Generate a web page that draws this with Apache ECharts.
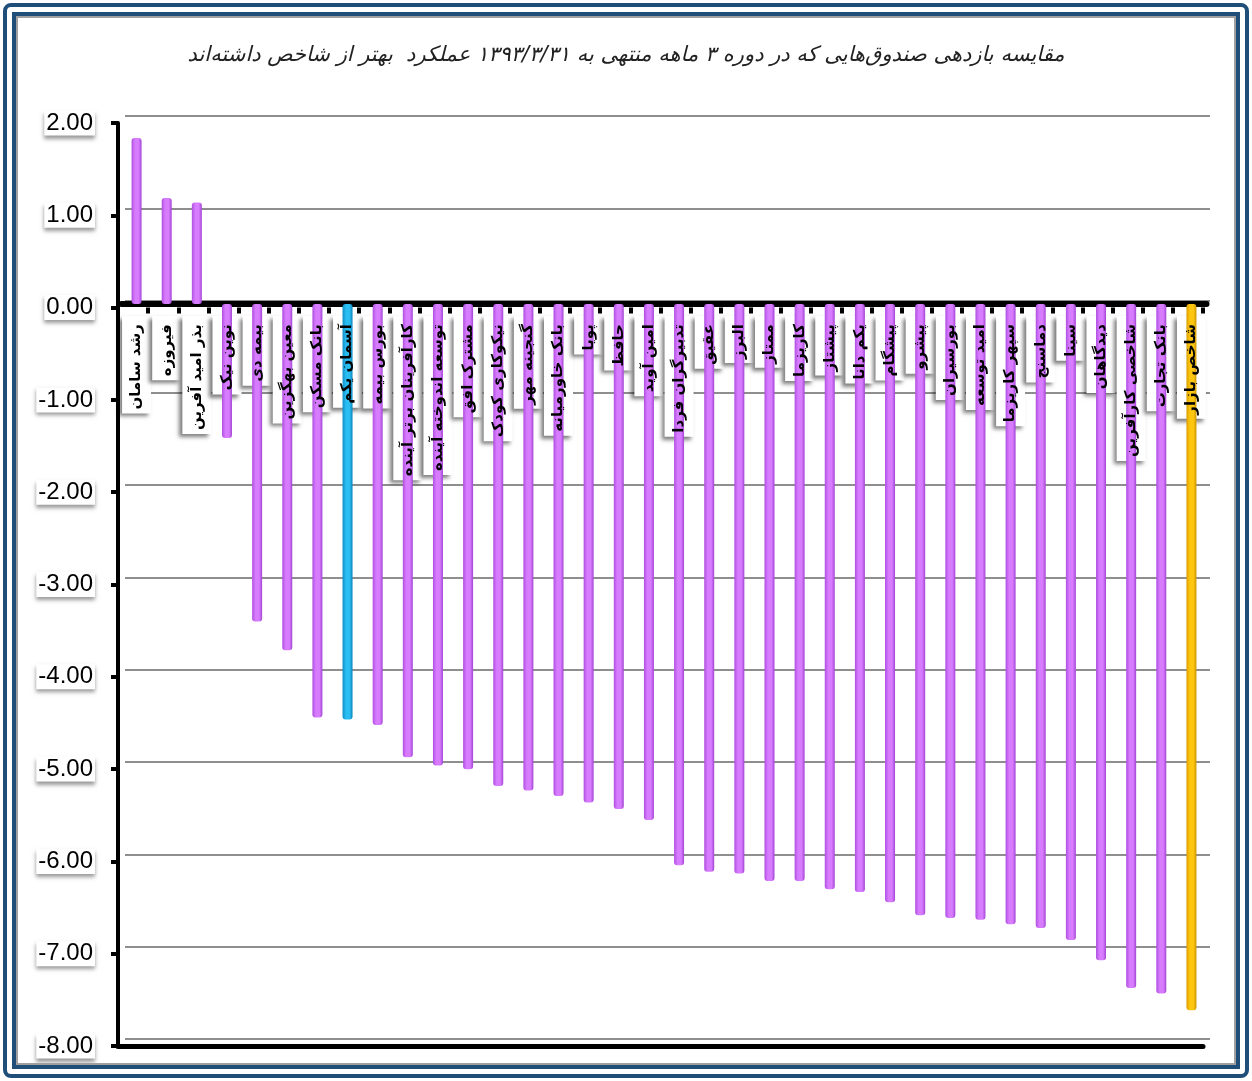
<!DOCTYPE html>
<html>
<head>
<meta charset="utf-8">
<script src="https://cdn.jsdelivr.net/npm/echarts@6/dist/echarts.min.js"></script>
<style>
html,body{margin:0;padding:0;background:#fff;}
#chart{width:1252px;height:1081px;}
</style>
</head>
<body>
<div id="chart"></div>
<script>
const titleText = 'مقایسه بازدهی صندوق‌هایی که در دوره ۳ ماهه منتهی به ۱۳۹۳/۳/۳۱ عملکرد  بهتر از شاخص داشته‌اند';
const categories = [
  'رشد سامان','فیروزه','بذر امید آفرین','نوین نیک','بیمه دی','معین بهگزین','بانک مسکن','آسمان یکم',
  'بورس بیمه','کارآفرینان برتر آینده','توسعه اندوخته آینده','مشترک افق','نیکوکاری کودک','گنجینه مهر',
  'بانک خاورمیانه','پویا','حافظ','امین آوید','تدبیرگران فردا','عقیق','البرز','ممتاز','کاریزما',
  'پیشتاز','یکم دانا','پیشگام','پیشرو','بورسیران','امید توسعه','سپهر کاریزما','دماسنج','سینا',
  'دیدگاهان','شاخصی کارآفرین','بانک تجارت','شاخص بازار'
];
const returns = [
  1.80, 1.15, 1.10, -1.45, -3.44, -3.75, -4.48, -4.50,
  -4.56, -4.91, -5.00, -5.04, -5.22, -5.27,
  -5.33, -5.40, -5.47, -5.59, -6.08, -6.15, -6.17, -6.25, -6.25,
  -6.34, -6.37, -6.48, -6.62, -6.65, -6.67, -6.72, -6.76, -6.89,
  -7.11, -7.41, -7.47, -7.65
];
const yTicks = { min: -8, max: 2, interval: 1 };
const highlightFund = 'آسمان یکم';
const marketIndex = 'شاخص بازار';

function cyl(c0, c1, c2) {
  return new echarts.graphic.LinearGradient(0, 0, 1, 0, [
    {offset: 0, color: c0}, {offset: 0.35, color: c1}, {offset: 0.7, color: c1}, {offset: 1, color: c2}
  ]);
}
const purple = cyl('#b04fe0', '#d77cff', '#a445d4');
const blue = cyl('#0e8ec4', '#29bdf2', '#0b84b8');
const gold = cyl('#d9a000', '#ffc610', '#c99400');

const barData = returns.map((v, i) => ({
  value: v,
  itemStyle: { color: categories[i] === highlightFund ? blue : (categories[i] === marketIndex ? gold : purple) }
}));

const W = 1085, H = 923;
const UNIT = H / (yTicks.max - yTicks.min);
const ZERO_OFF = UNIT * yTicks.max;
function g(left, top, height) {
  return { left: left, top: top, width: W, height: height, outerBoundsMode: 'none', containLabel: false };
}
const frontG = g(118, 123, H);
const midG = g(121.5, 119.5, H);
const backG = g(125, 116, H);
const midZeroG = g(121.5, 119.5, ZERO_OFF);
const frontZeroG = g(118, 123, ZERO_OFF);

function yAx(grid, extra) {
  return Object.assign({
    type: 'value', gridIndex: grid, min: yTicks.min, max: yTicks.max, interval: yTicks.interval,
    axisLine: {show: false}, axisTick: {show: false}, axisLabel: {show: false}, splitLine: {show: false}
  }, extra || {});
}
function xAx(grid, extra) {
  return Object.assign({
    type: 'category', gridIndex: grid, data: categories, boundaryGap: true, position: 'bottom',
    axisLine: {show: false, onZero: false}, axisTick: {show: false}, axisLabel: {show: false}, splitLine: {show: false}
  }, extra || {});
}

const labelFont = { fontFamily: 'DejaVu Sans', fontSize: 15, fontWeight: 'bold' };

const option = {
  animation: false,
  backgroundColor: '#ffffff',
  title: {
    text: titleText, left: 'center', top: 40,
    textStyle: { fontFamily: 'DejaVu Sans', fontStyle: 'italic', fontWeight: 'normal', fontSize: 21, color: '#222' }
  },
  grid: [backG, frontG, midG, midZeroG, midZeroG, frontZeroG, frontG],
  xAxis: [
    xAx(0),
    xAx(1),
    xAx(2),
    xAx(3, {
      z: 1,
      axisLine: { show: true, onZero: false, lineStyle: { color: '#000', width: 6 } },
      axisLabel: Object.assign({
        show: true, interval: 0, rotate: 90, margin: 12, color: 'rgba(0,0,0,0)', hideOverlap: false,
        backgroundColor: '#ffffff', padding: [7, 8, 7, 4],
        shadowColor: 'rgba(0,0,0,0.5)', shadowBlur: 4, shadowOffsetX: -3, shadowOffsetY: 3
      }, labelFont)
    }),
    xAx(4, {
      z: 6,
      axisLabel: Object.assign({ show: true, interval: 0, rotate: 90, margin: 12, color: '#000', hideOverlap: false, padding: [7, 8, 7, 4] }, labelFont)
    }),
    xAx(5, { z: 2, axisTick: { show: true, interval: 0, length: 6, lineStyle: { color: '#000', width: 4 } } }),
    xAx(6, { axisLine: { show: true, onZero: false, lineStyle: { color: '#000', width: 5 } } })
  ],
  yAxis: [
    yAx(0, { splitLine: { show: true, lineStyle: { color: '#8e8e8e', width: 2 } } }),
    yAx(1, {
      z: 4,
      axisLine: { show: true, onZero: false, lineStyle: { color: '#000', width: 4 } },
      axisTick: { show: true, inside: false, length: 7, lineStyle: { color: '#000', width: 4 } },
      axisLabel: {
        show: true, margin: 23, color: '#000', fontFamily: 'Liberation Sans', fontSize: 24,
        formatter: v => v.toFixed(2),
        backgroundColor: '#ffffff', padding: [1, 2, 0, 2],
        shadowColor: 'rgba(0,0,0,0.4)', shadowBlur: 4, shadowOffsetX: 0, shadowOffsetY: 3
      }
    }),
    yAx(2), yAx(3), yAx(4), yAx(5), yAx(6)
  ],
  series: [{
    type: 'bar', xAxisIndex: 2, yAxisIndex: 2, z: 3,
    barWidth: 10, itemStyle: { borderRadius: 3 }, data: barData
  }],
  graphic: [
    { type: 'rect', silent: true, z: 100, shape: { x: 5, y: 5, width: 1242, height: 1071, r: 6 }, style: { fill: 'none', stroke: '#1F4E79', lineWidth: 4 } },
    { type: 'rect', silent: true, z: 100, shape: { x: 14, y: 14, width: 1224, height: 1053 }, style: { fill: 'none', stroke: '#1F4E79', lineWidth: 4 } },
    { type: 'rect', silent: true, z: 100, shape: { x: 17, y: 17, width: 1218, height: 1047 }, style: { fill: 'none', stroke: '#a0a0a0', lineWidth: 2 } }
  ]
};

const chart = echarts.init(document.getElementById('chart'));
chart.setOption(option);
</script>
</body>
</html>
